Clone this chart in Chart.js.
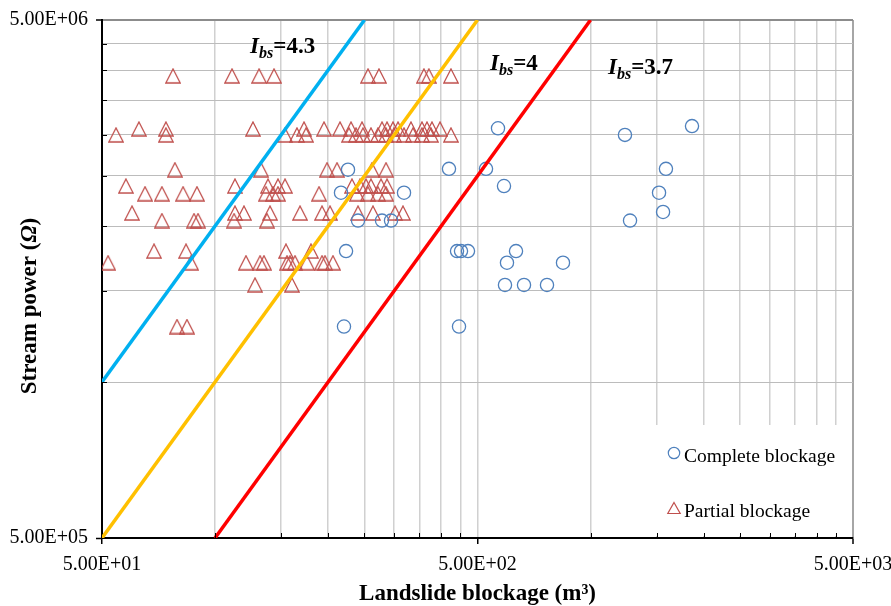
<!DOCTYPE html>
<html>
<head>
<meta charset="utf-8">
<script src="https://cdn.jsdelivr.net/npm/chart.js@4/dist/chart.umd.min.js"></script>
<style>
    html, body { margin: 0; padding: 0; background: #fff; }
</style>
</head>
<body>
<canvas id="chart" width="891" height="606"></canvas>
<script>
'use strict';

// Partial blockage (triangles), read row by row
const partialX = [
    77.3, 111, 131, 143.6, 255.5, 273.3, 360, 371, 425,
    62.7, 74.0, 126.2, 172.6, 195.1, 215.2, 230.2, 246.3, 278.4, 287.1, 297.8, 307.1, 332.5, 355.7, 366.8, 378.2, 397.3,
    54.5, 74.0, 153.6, 165.3, 174.7, 227.4, 237.4, 247.8, 260.2, 271.6, 285.3, 299.6, 318.6, 336.6, 355.7, 375.9, 425,
    78.2, 132.6, 198.7, 211.3, 261.8, 285.3,
    57.9, 113, 138.4, 147.1, 153.6, 231.6, 243.3, 252.4, 260.2, 276.7, 287.1,
    65.1, 72.2, 82.2, 89.5, 136.7, 142.7, 147.1, 189.2, 238.8, 255.5, 271.6, 285.3,
    60.1, 113, 119.4, 140.1, 168.4, 192.7, 202.4, 240.3, 263.4, 301.5, 316.6,
    72.2, 87.9, 90.1, 112.4, 137.5,
    68.8, 83.7, 154.5, 180.1,
    51.9, 86.3, 120.9, 131.8, 135, 155.5, 158.4, 163.3, 175.8, 192.7, 196.3, 206.1,
    127.8, 160.3,
    79.2, 84.2,
];
const partialY = [
    3.9e6, 3.9e6, 3.9e6, 3.9e6, 3.9e6, 3.9e6, 3.9e6, 3.9e6, 3.9e6,
    3.08e6, 3.08e6, 3.08e6, 3.08e6, 3.08e6, 3.08e6, 3.08e6, 3.08e6, 3.08e6, 3.08e6, 3.08e6, 3.08e6, 3.08e6, 3.08e6, 3.08e6, 3.08e6, 3.08e6,
    3.0e6, 3.0e6, 3.0e6, 3.0e6, 3.0e6, 3.0e6, 3.0e6, 3.0e6, 3.0e6, 3.0e6, 3.0e6, 3.0e6, 3.0e6, 3.0e6, 3.0e6, 3.0e6, 3.0e6,
    2.57e6, 2.57e6, 2.57e6, 2.57e6, 2.57e6, 2.57e6,
    2.39e6, 2.39e6, 2.39e6, 2.39e6, 2.39e6, 2.39e6, 2.39e6, 2.39e6, 2.39e6, 2.39e6, 2.39e6,
    2.31e6, 2.31e6, 2.31e6, 2.31e6, 2.31e6, 2.31e6, 2.31e6, 2.31e6, 2.31e6, 2.31e6, 2.31e6, 2.31e6,
    2.12e6, 2.12e6, 2.12e6, 2.12e6, 2.12e6, 2.12e6, 2.12e6, 2.12e6, 2.12e6, 2.12e6, 2.12e6,
    2.05e6, 2.05e6, 2.05e6, 2.05e6, 2.05e6,
    1.79e6, 1.79e6, 1.79e6, 1.79e6,
    1.7e6, 1.7e6, 1.7e6, 1.7e6, 1.7e6, 1.7e6, 1.7e6, 1.7e6, 1.7e6, 1.7e6, 1.7e6, 1.7e6,
    1.54e6, 1.54e6,
    1.28e6, 1.28e6,
];

// Complete blockage (circles)
const completeX = [226, 216.5, 318.6, 240.3, 278.4, 294.2, 223.3, 220.5, 419.8, 526.8, 567, 588.2, 441, 451.9,
    471.7, 633.2, 599.1, 591.8, 665, 765.7, 844.6, 446.4, 1235, 1863, 1588, 1522, 1560, 1274];
const completeY = [2.57e6, 2.32e6, 2.32e6, 2.05e6, 2.05e6, 2.05e6, 1.79e6, 1.28e6, 2.58e6, 2.58e6, 3.09e6, 2.39e6,
    1.79e6, 1.79e6, 1.79e6, 1.79e6, 1.7e6, 1.54e6, 1.54e6, 1.54e6, 1.7e6, 1.28e6, 3.0e6, 3.12e6, 2.58e6, 2.32e6,
    2.13e6, 2.05e6];

// Ibs threshold lines (end points)
const ibsValues = ['4.3', '4', '3.7'];
const ibsLineX = [[50, 250], [50, 500], [100, 1000]];
const ibsLineY = [[1e6, 5e6], [5e5, 5e6], [5e5, 5e6]];
const ibsLabelX = [124, 540, 1113];
const ibsLabelY = [4.32e6, 4.0e6, 3.93e6];

// axes
const xTicks = [50, 100, 150, 200, 250, 300, 350, 400, 450, 500, 1000, 1500, 2000, 2500, 3000, 3500, 4000, 4500, 5000];
const yTicks = [5e5, 1e6, 1.5e6, 2e6, 2.5e6, 3e6, 3.5e6, 4e6, 4.5e6, 5e6];
const xMajor = [50, 500, 5000];
const yMajor = [5e5, 5e6];

const serif = "'Liberation Serif', 'Times New Roman', serif";
const lineColors = ['#00b0f0', '#ffc000', '#ff0000'];

function sci(v) {
    // 5.00E+01
    let [m, e] = v.toExponential(2).split('e');
    let n = parseInt(e, 10);
    return m + 'E' + (n < 0 ? '-' : '+') + String(Math.abs(n)).padStart(2, '0');
}

// triangle marker, centred on its box like Excel
function makeTriangle(w, h, color, lw) {
    let c = document.createElement('canvas');
    c.width = w;
    c.height = h;
    let g = c.getContext('2d');
    g.strokeStyle = color;
    g.lineWidth = lw;
    g.beginPath();
    g.moveTo(w / 2, 1);
    g.lineTo(w - 0.8, h - 1);
    g.lineTo(0.8, h - 1);
    g.closePath();
    g.stroke();
    return c;
}
const triangle = makeTriangle(16, 16, '#c0504d', 1.3);

const partialData = partialX.map((x, i) => ({ x, y: partialY[i] }));
const completeData = completeX.map((x, i) => ({ x, y: completeY[i] }));

let datasets = [
    {
        label: 'Complete blockage',
        data: completeData,
        pointStyle: 'circle',
        pointRadius: 6.6,
        borderWidth: 1.3,
        borderColor: '#4f81bd',
        backgroundColor: 'rgba(0,0,0,0)',
        order: 2,
    },
    {
        label: 'Partial blockage',
        data: partialData,
        pointStyle: triangle,
        pointRadius: 7,
        borderColor: '#c0504d',
        backgroundColor: 'rgba(0,0,0,0)',
        order: 3,
    },
];
ibsValues.forEach((v, i) => {
    datasets.push({
        label: 'Ibs=' + v,
        data: ibsLineX[i].map((x, j) => ({ x, y: ibsLineY[i][j] })),
        showLine: true,
        pointRadius: 0,
        borderColor: lineColors[i],
        borderWidth: 3.5,
        order: 1,
    });
});

// draws text pieces with different fonts one after another
function drawParts(ctx, parts, x, y) {
    for (let p of parts) {
        ctx.font = p.font;
        ctx.fillText(p.text, x, y + (p.dy || 0));
        x += ctx.measureText(p.text).width;
    }
}

function partsWidth(ctx, parts) {
    let w = 0;
    for (let p of parts) {
        ctx.font = p.font;
        w += ctx.measureText(p.text).width;
    }
    return w;
}

// Ibs labels, y title, minor inner ticks and the legend box
const extras = {
    id: 'extras',
    afterDraw(chart) {
        let ctx = chart.ctx;
        let area = chart.chartArea;
        let sx = chart.scales.x;
        let sy = chart.scales.y;
        ctx.save();
        ctx.fillStyle = '#000';
        ctx.textBaseline = 'alphabetic';
        ctx.textAlign = 'left';

        ibsValues.forEach((v, i) => {
            drawParts(ctx, [
                { text: 'I', font: 'italic bold 23px ' + serif },
                { text: 'bs', font: 'italic bold 16px ' + serif, dy: 5 },
                { text: '=' + v, font: 'bold 23px ' + serif },
            ], sx.getPixelForValue(ibsLabelX[i]), sy.getPixelForValue(ibsLabelY[i]));
        });

        // y axis title with italic omega
        let title = [
            { text: 'Stream power (', font: 'bold 23px ' + serif },
            { text: 'Ω', font: 'italic bold 23px ' + serif },
            { text: ')', font: 'bold 23px ' + serif },
        ];
        ctx.save();
        ctx.translate(36, 306);
        ctx.rotate(-Math.PI / 2);
        drawParts(ctx, title, -partsWidth(ctx, title) / 2, 0);
        ctx.restore();

        // legend
        ctx.fillStyle = '#fff';
        ctx.fillRect(645, 425, area.right - 2 - 645, area.bottom - 2 - 425);
        ctx.strokeStyle = '#4f81bd';
        ctx.lineWidth = 1.2;
        ctx.beginPath();
        ctx.arc(674, 453, 5.7, 0, Math.PI * 2);
        ctx.stroke();
        ctx.strokeStyle = '#c0504d';
        ctx.beginPath();
        ctx.moveTo(674, 502.5);
        ctx.lineTo(680.2, 513.5);
        ctx.lineTo(667.8, 513.5);
        ctx.closePath();
        ctx.stroke();
        ctx.fillStyle = '#000';
        ctx.font = '19.5px ' + serif;
        ctx.fillText(chart.data.datasets[0].label, 684, 462);
        ctx.fillText(chart.data.datasets[1].label, 684, 517);

        // small inner ticks on the minor grid lines
        ctx.strokeStyle = '#000';
        ctx.lineWidth = 1;
        ctx.beginPath();
        for (let v of xTicks) {
            if (xMajor.includes(v)) continue;
            let px = Math.round(sx.getPixelForValue(v)) + 0.5;
            ctx.moveTo(px, area.bottom);
            ctx.lineTo(px, area.bottom - 5);
        }
        for (let v of yTicks) {
            if (yMajor.includes(v)) continue;
            let py = Math.round(sy.getPixelForValue(v)) + 0.5;
            ctx.moveTo(area.left, py);
            ctx.lineTo(area.left + 5, py);
        }
        ctx.stroke();
        ctx.restore();
    },
};

new Chart(document.getElementById('chart').getContext('2d'), {
    type: 'scatter',
    data: { datasets },
    options: {
        responsive: false,
        animation: false,
        devicePixelRatio: 1,
        layout: { padding: { top: 20, right: 38, bottom: 0, left: 0 } },
        plugins: {
            legend: { display: false },
            tooltip: { enabled: false },
        },
        scales: {
            x: {
                type: 'logarithmic',
                min: 50,
                max: 5000,
                afterBuildTicks: (scale) => {
                    scale.ticks = xTicks.map((v) => ({ value: v }));
                },
                afterFit: (scale) => {
                    scale.height = 68;
                    scale.paddingLeft = 0;
                    scale.paddingRight = 0;
                },
                ticks: {
                    autoSkip: false,
                    maxRotation: 0,
                    padding: 9,
                    color: '#000',
                    font: { family: serif, size: 20 },
                    callback: (v) => (xMajor.includes(v) ? sci(v) : ''),
                },
                grid: {
                    color: (c) => (c.tick && c.tick.value === 5000 ? '#a6a6a6' : '#d0d0d0'),
                    lineWidth: (c) => (c.tick && c.tick.value === 5000 ? 2 : 1.5),
                    tickLength: 6,
                    tickWidth: 1.5,
                    tickColor: (c) => (c.tick && xMajor.includes(c.tick.value) ? '#000' : 'rgba(0,0,0,0)'),
                },
                border: { color: '#000', width: 2 },
                title: {
                    display: true,
                    text: 'Landslide blockage (m³)',
                    color: '#000',
                    font: { family: serif, size: 23, weight: 'bold' },
                    padding: { bottom: -2, top: 0 },
                },
            },
            y: {
                type: 'logarithmic',
                min: 5e5,
                max: 5e6,
                afterBuildTicks: (scale) => {
                    scale.ticks = yTicks.map((v) => ({ value: v }));
                },
                afterFit: (scale) => {
                    scale.width = 102;
                    scale.paddingTop = 0;
                    scale.paddingBottom = 0;
                },
                ticks: {
                    autoSkip: false,
                    padding: 8,
                    color: '#000',
                    font: { family: serif, size: 20 },
                    callback: (v) => (yMajor.includes(v) ? sci(v) : ''),
                },
                grid: {
                    color: (c) => (c.tick && c.tick.value === 5e6 ? '#8c8c8c' : '#bcbcbc'),
                    lineWidth: (c) => (c.tick && c.tick.value === 5e6 ? 2 : 1),
                    tickLength: 6,
                    tickWidth: 1.5,
                    tickColor: (c) => (c.tick && yMajor.includes(c.tick.value) ? '#000' : 'rgba(0,0,0,0)'),
                },
                border: { color: '#000', width: 2 },
                title: { display: false },
            },
        },
    },
    plugins: [extras],
});
</script>
</body>
</html>
